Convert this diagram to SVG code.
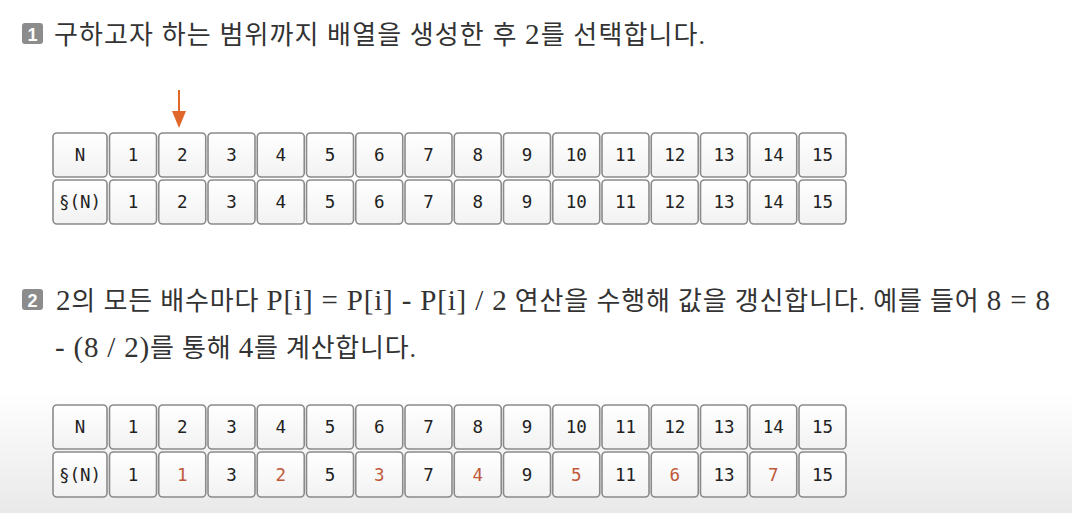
<svg xmlns="http://www.w3.org/2000/svg" width="1072" height="513" viewBox="0 0 1072 513">
<defs>
<linearGradient id="bg" x1="0" y1="0" x2="0" y2="1">
<stop offset="0" stop-color="#ffffff"/>
<stop offset="0.76" stop-color="#ffffff"/>
<stop offset="1" stop-color="#e9e9e9"/>
</linearGradient>
<linearGradient id="cellg" x1="0" y1="0" x2="0" y2="1">
<stop offset="0" stop-color="#ffffff"/>
<stop offset="1" stop-color="#f2f2f2"/>
</linearGradient>
</defs>
<style>
.cell{fill:url(#cellg);stroke:#8a8a8a;stroke-width:1.6}
.hd{fill:url(#cellg);stroke:#8a8a8a;stroke-width:1.6}
.t{font-family:"DejaVu Sans Mono","Liberation Mono",monospace;font-size:17.5px;fill:#222;text-anchor:middle}
.r{fill:#c0583a}
.body{font-family:"Liberation Serif","Noto Sans CJK KR",serif;font-size:26px;fill:#333}
.lat{font-size:29px}
.badge{fill:#8c8c8c}
.bt{font-family:"Liberation Sans","Noto Sans",sans-serif;font-size:18px;font-weight:bold;fill:#fff;text-anchor:middle}
.arrow{stroke:#e0662a;stroke-width:2;fill:none}
.ahead{fill:#e0662a}
</style>
<rect width="1072" height="513" fill="url(#bg)"/>

<g id="step1">
<rect class="badge" x="22" y="23" width="21" height="21" rx="3"/>
<text class="bt" x="32.5" y="40.5">1</text>
<text class="body" x="54" y="44" textLength="651">구하고자 하는 범위까지 배열을 생성한 후 <tspan class="lat">2</tspan>를 선택합니다.</text>
</g>

<g id="step2">
<rect class="badge" x="22" y="289" width="21" height="21" rx="3"/>
<text class="bt" x="32.5" y="306.5">2</text>
<text class="body" x="56" y="310" textLength="994"><tspan class="lat">2</tspan>의 모든 배수마다 <tspan class="lat">P[i] = P[i] - P[i] / 2</tspan> 연산을 수행해 값을 갱신합니다. 예를 들어 <tspan class="lat">8 = 8</tspan></text>
<text class="body" x="55" y="357" textLength="361"><tspan class="lat">- (8 / 2)</tspan>를 통해 <tspan class="lat">4</tspan>를 계산합니다.</text>
</g>

<g id="connectors">
<line class="arrow" x1="179" y1="90" x2="179" y2="114"/>
<path class="ahead" d="M172,111 L186,111 L179,128 Z"/>
</g>

<g id="table1">
<g id="t1-N"><rect class="hd" x="53" y="133" width="54" height="44" rx="4"/><text class="t" x="80" y="161">N</text></g>
<g id="t1-c1"><rect class="cell" x="109.5" y="133" width="47" height="44" rx="4"/><text class="t" x="133" y="161">1</text></g>
<g id="t1-c2"><rect class="cell" x="158.75" y="133" width="47" height="44" rx="4"/><text class="t" x="182.25" y="161">2</text></g>
<g id="t1-c3"><rect class="cell" x="208" y="133" width="47" height="44" rx="4"/><text class="t" x="231.5" y="161">3</text></g>
<g id="t1-c4"><rect class="cell" x="257.25" y="133" width="47" height="44" rx="4"/><text class="t" x="280.75" y="161">4</text></g>
<g id="t1-c5"><rect class="cell" x="306.5" y="133" width="47" height="44" rx="4"/><text class="t" x="330" y="161">5</text></g>
<g id="t1-c6"><rect class="cell" x="355.75" y="133" width="47" height="44" rx="4"/><text class="t" x="379.25" y="161">6</text></g>
<g id="t1-c7"><rect class="cell" x="405" y="133" width="47" height="44" rx="4"/><text class="t" x="428.5" y="161">7</text></g>
<g id="t1-c8"><rect class="cell" x="454.25" y="133" width="47" height="44" rx="4"/><text class="t" x="477.75" y="161">8</text></g>
<g id="t1-c9"><rect class="cell" x="503.5" y="133" width="47" height="44" rx="4"/><text class="t" x="527" y="161">9</text></g>
<g id="t1-c10"><rect class="cell" x="552.75" y="133" width="47" height="44" rx="4"/><text class="t" x="576.25" y="161">10</text></g>
<g id="t1-c11"><rect class="cell" x="602" y="133" width="47" height="44" rx="4"/><text class="t" x="625.5" y="161">11</text></g>
<g id="t1-c12"><rect class="cell" x="651.25" y="133" width="47" height="44" rx="4"/><text class="t" x="674.75" y="161">12</text></g>
<g id="t1-c13"><rect class="cell" x="700.5" y="133" width="47" height="44" rx="4"/><text class="t" x="724" y="161">13</text></g>
<g id="t1-c14"><rect class="cell" x="749.75" y="133" width="47" height="44" rx="4"/><text class="t" x="773.25" y="161">14</text></g>
<g id="t1-c15"><rect class="cell" x="799" y="133" width="47" height="44" rx="4"/><text class="t" x="822.5" y="161">15</text></g>

<g id="t1-S"><rect class="hd" x="53" y="180" width="54" height="44" rx="4"/><text class="t" x="80" y="208">§(N)</text></g>
<g id="t1-s1"><rect class="cell" x="109.5" y="180" width="47" height="44" rx="4"/><text class="t" x="133" y="208">1</text></g>
<g id="t1-s2"><rect class="cell" x="158.75" y="180" width="47" height="44" rx="4"/><text class="t" x="182.25" y="208">2</text></g>
<g id="t1-s3"><rect class="cell" x="208" y="180" width="47" height="44" rx="4"/><text class="t" x="231.5" y="208">3</text></g>
<g id="t1-s4"><rect class="cell" x="257.25" y="180" width="47" height="44" rx="4"/><text class="t" x="280.75" y="208">4</text></g>
<g id="t1-s5"><rect class="cell" x="306.5" y="180" width="47" height="44" rx="4"/><text class="t" x="330" y="208">5</text></g>
<g id="t1-s6"><rect class="cell" x="355.75" y="180" width="47" height="44" rx="4"/><text class="t" x="379.25" y="208">6</text></g>
<g id="t1-s7"><rect class="cell" x="405" y="180" width="47" height="44" rx="4"/><text class="t" x="428.5" y="208">7</text></g>
<g id="t1-s8"><rect class="cell" x="454.25" y="180" width="47" height="44" rx="4"/><text class="t" x="477.75" y="208">8</text></g>
<g id="t1-s9"><rect class="cell" x="503.5" y="180" width="47" height="44" rx="4"/><text class="t" x="527" y="208">9</text></g>
<g id="t1-s10"><rect class="cell" x="552.75" y="180" width="47" height="44" rx="4"/><text class="t" x="576.25" y="208">10</text></g>
<g id="t1-s11"><rect class="cell" x="602" y="180" width="47" height="44" rx="4"/><text class="t" x="625.5" y="208">11</text></g>
<g id="t1-s12"><rect class="cell" x="651.25" y="180" width="47" height="44" rx="4"/><text class="t" x="674.75" y="208">12</text></g>
<g id="t1-s13"><rect class="cell" x="700.5" y="180" width="47" height="44" rx="4"/><text class="t" x="724" y="208">13</text></g>
<g id="t1-s14"><rect class="cell" x="749.75" y="180" width="47" height="44" rx="4"/><text class="t" x="773.25" y="208">14</text></g>
<g id="t1-s15"><rect class="cell" x="799" y="180" width="47" height="44" rx="4"/><text class="t" x="822.5" y="208">15</text></g>
</g>

<g id="table2">
<g id="t2-N"><rect class="hd" x="53" y="405" width="54" height="44" rx="4"/><text class="t" x="80" y="433">N</text></g>
<g id="t2-c1"><rect class="cell" x="109.5" y="405" width="47" height="44" rx="4"/><text class="t" x="133" y="433">1</text></g>
<g id="t2-c2"><rect class="cell" x="158.75" y="405" width="47" height="44" rx="4"/><text class="t" x="182.25" y="433">2</text></g>
<g id="t2-c3"><rect class="cell" x="208" y="405" width="47" height="44" rx="4"/><text class="t" x="231.5" y="433">3</text></g>
<g id="t2-c4"><rect class="cell" x="257.25" y="405" width="47" height="44" rx="4"/><text class="t" x="280.75" y="433">4</text></g>
<g id="t2-c5"><rect class="cell" x="306.5" y="405" width="47" height="44" rx="4"/><text class="t" x="330" y="433">5</text></g>
<g id="t2-c6"><rect class="cell" x="355.75" y="405" width="47" height="44" rx="4"/><text class="t" x="379.25" y="433">6</text></g>
<g id="t2-c7"><rect class="cell" x="405" y="405" width="47" height="44" rx="4"/><text class="t" x="428.5" y="433">7</text></g>
<g id="t2-c8"><rect class="cell" x="454.25" y="405" width="47" height="44" rx="4"/><text class="t" x="477.75" y="433">8</text></g>
<g id="t2-c9"><rect class="cell" x="503.5" y="405" width="47" height="44" rx="4"/><text class="t" x="527" y="433">9</text></g>
<g id="t2-c10"><rect class="cell" x="552.75" y="405" width="47" height="44" rx="4"/><text class="t" x="576.25" y="433">10</text></g>
<g id="t2-c11"><rect class="cell" x="602" y="405" width="47" height="44" rx="4"/><text class="t" x="625.5" y="433">11</text></g>
<g id="t2-c12"><rect class="cell" x="651.25" y="405" width="47" height="44" rx="4"/><text class="t" x="674.75" y="433">12</text></g>
<g id="t2-c13"><rect class="cell" x="700.5" y="405" width="47" height="44" rx="4"/><text class="t" x="724" y="433">13</text></g>
<g id="t2-c14"><rect class="cell" x="749.75" y="405" width="47" height="44" rx="4"/><text class="t" x="773.25" y="433">14</text></g>
<g id="t2-c15"><rect class="cell" x="799" y="405" width="47" height="44" rx="4"/><text class="t" x="822.5" y="433">15</text></g>

<g id="t2-S"><rect class="hd" x="53" y="452" width="54" height="45" rx="4"/><text class="t" x="80" y="480.5">§(N)</text></g>
<g id="t2-s1"><rect class="cell" x="109.5" y="452" width="47" height="45" rx="4"/><text class="t" x="133" y="480.5">1</text></g>
<g id="t2-s2"><rect class="cell" x="158.75" y="452" width="47" height="45" rx="4"/><text class="t r" x="182.25" y="480.5">1</text></g>
<g id="t2-s3"><rect class="cell" x="208" y="452" width="47" height="45" rx="4"/><text class="t" x="231.5" y="480.5">3</text></g>
<g id="t2-s4"><rect class="cell" x="257.25" y="452" width="47" height="45" rx="4"/><text class="t r" x="280.75" y="480.5">2</text></g>
<g id="t2-s5"><rect class="cell" x="306.5" y="452" width="47" height="45" rx="4"/><text class="t" x="330" y="480.5">5</text></g>
<g id="t2-s6"><rect class="cell" x="355.75" y="452" width="47" height="45" rx="4"/><text class="t r" x="379.25" y="480.5">3</text></g>
<g id="t2-s7"><rect class="cell" x="405" y="452" width="47" height="45" rx="4"/><text class="t" x="428.5" y="480.5">7</text></g>
<g id="t2-s8"><rect class="cell" x="454.25" y="452" width="47" height="45" rx="4"/><text class="t r" x="477.75" y="480.5">4</text></g>
<g id="t2-s9"><rect class="cell" x="503.5" y="452" width="47" height="45" rx="4"/><text class="t" x="527" y="480.5">9</text></g>
<g id="t2-s10"><rect class="cell" x="552.75" y="452" width="47" height="45" rx="4"/><text class="t r" x="576.25" y="480.5">5</text></g>
<g id="t2-s11"><rect class="cell" x="602" y="452" width="47" height="45" rx="4"/><text class="t" x="625.5" y="480.5">11</text></g>
<g id="t2-s12"><rect class="cell" x="651.25" y="452" width="47" height="45" rx="4"/><text class="t r" x="674.75" y="480.5">6</text></g>
<g id="t2-s13"><rect class="cell" x="700.5" y="452" width="47" height="45" rx="4"/><text class="t" x="724" y="480.5">13</text></g>
<g id="t2-s14"><rect class="cell" x="749.75" y="452" width="47" height="45" rx="4"/><text class="t r" x="773.25" y="480.5">7</text></g>
<g id="t2-s15"><rect class="cell" x="799" y="452" width="47" height="45" rx="4"/><text class="t" x="822.5" y="480.5">15</text></g>
</g>
</svg>
